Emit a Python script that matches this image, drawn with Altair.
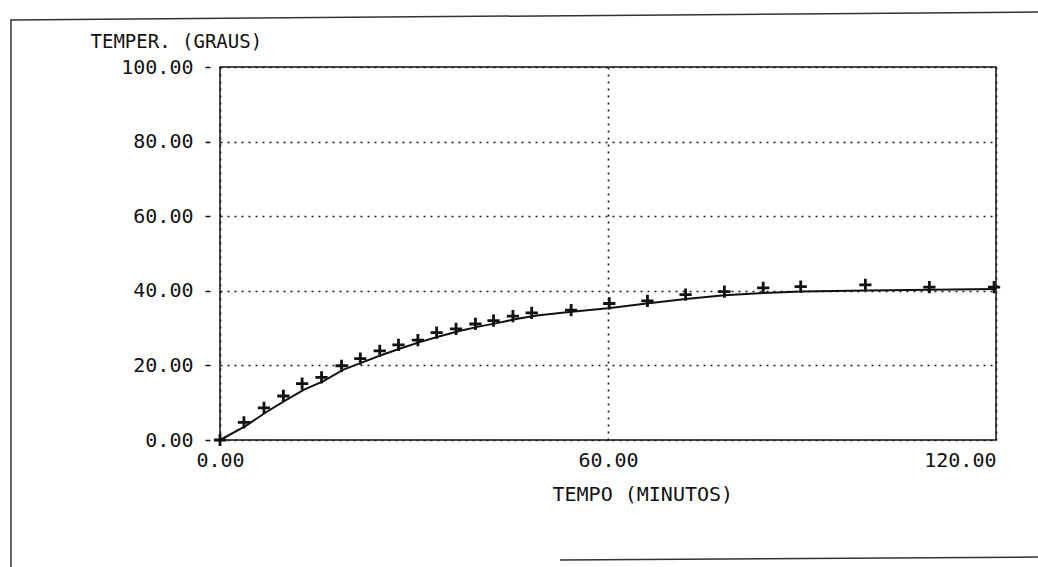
import altair as alt
import pandas as pd

# Observed points (+ markers)
t_obs = [0, 3.7, 6.8, 9.8, 12.7, 15.7, 18.8, 21.7, 24.7, 27.6, 30.6, 33.5, 36.5,
         39.5, 42.3, 45.3, 48.2, 54.3, 60.2, 66.1, 72.0, 78.0, 84.0, 89.8, 99.8,
         109.7, 119.7]
temp_obs = [0, 4.7, 8.6, 11.8, 15.1, 16.8, 19.9, 21.8, 23.9, 25.5, 26.8, 28.8, 29.8,
            31.1, 32.0, 33.2, 34.1, 34.8, 36.6, 37.3, 39.0, 39.8, 40.8, 41.1, 41.6,
            41.0, 41.0]

# Model curve (solid line)
t_fit = [0, 4, 7, 10, 13, 16, 19, 22, 25, 28, 31, 34, 37, 40, 43, 46, 49, 54, 60,
         66, 72, 78, 84, 90, 100, 110, 120]
temp_fit = [0, 3.8, 7.3, 10.5, 13.5, 15.8, 18.8, 20.8, 22.8, 24.6, 26.3, 27.8, 29.2,
            30.4, 31.4, 32.5, 33.4, 34.3, 35.3, 36.6, 37.8, 38.8, 39.4, 39.8, 40.1,
            40.3, 40.5]

x_ticks = [0, 60, 120]
y_ticks = [0, 20, 40, 60, 80, 100]

obs = pd.DataFrame({"t": t_obs, "T": temp_obs})
fit = pd.DataFrame({"t": t_fit, "T": temp_fit})

FONT = "DejaVu Sans Mono"
INK = "#111111"

x_scale = alt.Scale(domain=[0, 120], nice=False, zero=False)
y_scale = alt.Scale(domain=[0, 100], nice=False, zero=False)

x_axis = alt.Axis(
    values=x_ticks, format=".2f", grid=True, gridDash=[2, 5], gridColor="#1a1a1a",
    gridWidth=1.6, ticks=False, domain=False,
    labelFont=FONT, labelFontSize=20, labelColor=INK, labelPadding=10,
    labelAlign=alt.expr("datum.value == 120 ? 'right' : 'center'"),
    title="TEMPO (MINUTOS)", titleFont=FONT, titleFontSize=20, titleFontWeight="normal",
    titleColor=INK, titleAlign="left", titleX=332, titleY=54, titleBaseline="middle",
)
y_axis = alt.Axis(
    values=y_ticks, format=".2f", grid=True, gridDash=[2, 5], gridColor="#1a1a1a",
    gridWidth=1.6, offset=10, domain=False, ticks=True, tickSize=5, tickColor=INK,
    tickWidth=1.5, labelFont=FONT, labelFontSize=20, labelColor=INK, labelPadding=12,
    title="TEMPER. (GRAUS)", titleFont=FONT, titleFontSize=19, titleFontWeight="normal",
    titleColor=INK, titleAngle=0, titleAlign="left", titleX=-120, titleY=-26,
    titleBaseline="middle",
)

line = alt.Chart(fit).mark_line(color=INK, strokeWidth=2).encode(
    x=alt.X("t:Q", scale=x_scale, axis=x_axis),
    y=alt.Y("T:Q", scale=y_scale, axis=y_axis),
)

points = alt.Chart(obs).mark_point(
    shape="M-1,0H1M0,-1V1", size=150, filled=False, color=INK, strokeWidth=2.8,
    opacity=1,
).encode(
    x=alt.X("t:Q", scale=x_scale),
    y=alt.Y("T:Q", scale=y_scale),
)

one = pd.DataFrame({"a": [0]})
frame_left = alt.Chart(one).mark_rule(color="#333333", strokeWidth=1.5).encode(
    x=alt.value(-209), y=alt.value(-48), y2=alt.value(500))
frame_top = alt.Chart(one).mark_rule(color="#333333", strokeWidth=1.5).encode(
    x=alt.value(-209), x2=alt.value(818), y=alt.value(-47), y2=alt.value(-55))
frame_bottom = alt.Chart(one).mark_rule(color="#333333", strokeWidth=1.5).encode(
    x=alt.value(340), x2=alt.value(818), y=alt.value(493), y2=alt.value(490))

chart = alt.layer(line, points, frame_left, frame_top, frame_bottom).properties(
    width=776, height=373,
    autosize=alt.AutoSizeParams(type="none"),
    padding={"left": 220, "top": 67, "right": 42, "bottom": 127},
    background="white",
).configure_view(stroke=INK, strokeWidth=1.5)

chart.save("out.html", embed_options={"renderer": "svg", "actions": False})
